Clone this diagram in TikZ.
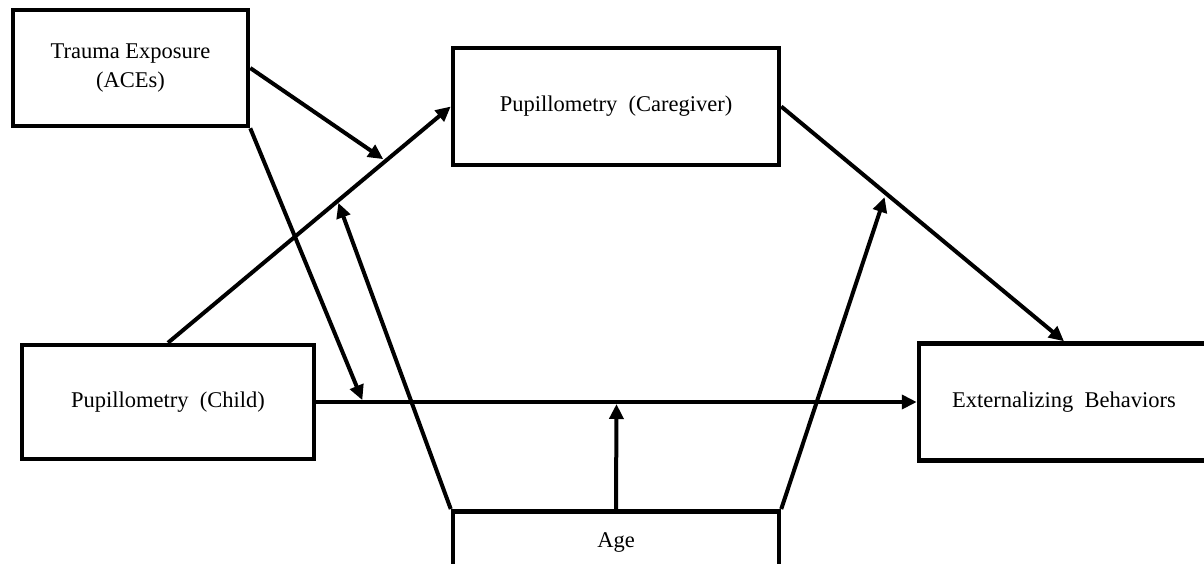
\documentclass[tikz,border=0pt]{standalone}
\usepackage{fontspec}
\setmainfont{Liberation Serif}
\usetikzlibrary{arrows.meta,calc}
\begin{document}
\begin{tikzpicture}[x=1pt,y=-1pt,
  box/.style={draw, line width=4.5pt, rectangle, inner sep=0pt, align=center,
    font=\fontsize{22.5}{29}\selectfont},
  arr/.style={line width=4pt, -{Triangle[length=15pt,width=14pt]}},
  conn/.style={line width=4pt}]
\useasboundingbox (0,0) rectangle (1204,563);
\node[box, minimum width=235pt, minimum height=116pt] (trauma) at (130.5,68) {Trauma Exposure\\(ACEs)};
\node[box, minimum width=326pt, minimum height=117pt] (care) at (616,106.5) {Pupillometry\ \ (Caregiver)};
\node[box, minimum width=292pt, minimum height=114pt] (child) at (168,402) {Pupillometry\ \ (Child)};
\node[box, minimum width=290pt, minimum height=117pt] (ext) at (1064,402) {Externalizing\ \ Behaviors};
\node[box, anchor=north, minimum width=326pt, text height=16pt, text depth=80pt, inner ysep=20pt] (age) at (616,509) {Age};
% points on connectors
\coordinate (p1) at ($(child.north)!0.77!(care.west)$);
\coordinate (p2) at ($(child.north)!0.60!(care.west)$);
\coordinate (p3) at ($(child.east)!0.078!(ext.west)$);
\coordinate (p4) at ($(child.east)!0.5!(ext.west)$);
\coordinate (p5) at ($(care.east)!0.37!(ext.north)$);
% connectors
\draw[arr] (child.north) -- (care.west);
\draw[arr] (child.east) -- (ext.west);
\draw[arr] (care.east) -- (ext.north);
\draw[arr, shorten >=3pt] (trauma.east) -- (p1);
\draw[arr, shorten >=2pt] (trauma.south east) -- (p3);
\draw[arr, shorten >=2pt] (age.north west) -- (p2);
\draw[arr, shorten >=2pt] (age.north) -- (p4);
\draw[arr, shorten >=4pt] (age.north east) -- (p5);
\end{tikzpicture}
\end{document}
